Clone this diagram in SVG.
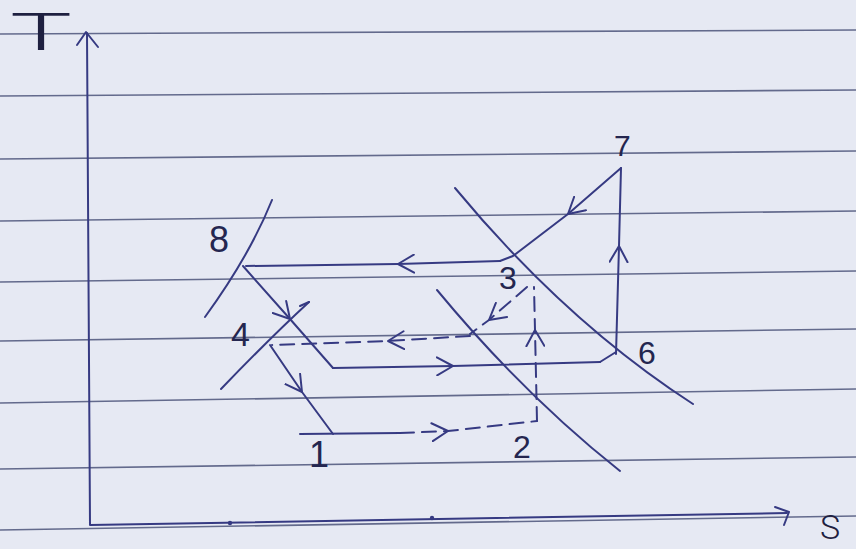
<svg xmlns="http://www.w3.org/2000/svg" width="856" height="549" viewBox="0 0 856 549">
  <style>
    .rule { stroke: #636a8c; stroke-width: 1.6; fill: none; }
    .ink { stroke: #363a82; stroke-width: 2; fill: none; stroke-linecap: round; stroke-linejoin: round; }
    .dash { stroke-dasharray: 14 8; }
    .lbl { font-family: "Liberation Sans", Arial, sans-serif; fill: #24264f; }
    .axl { font-family: Roboto, "Liberation Sans", sans-serif; font-weight: 300; fill: #1e2040; }
  </style>
  <defs>
    <marker id="v" viewBox="0 0 18 20" refX="17" refY="10" markerWidth="18" markerHeight="20" markerUnits="userSpaceOnUse" orient="auto">
      <path d="M1,1 L17,10 L1,19" fill="none" stroke="#363a82" stroke-width="2" stroke-linecap="round" stroke-linejoin="round"/>
    </marker>
  </defs>

  <rect width="856" height="549" fill="#e6e9f3"/>

  <g id="rules">
    <line class="rule" x1="0" y1="34" x2="856" y2="30"/>
    <line class="rule" x1="0" y1="96" x2="856" y2="90"/>
    <line class="rule" x1="0" y1="159" x2="856" y2="151"/>
    <line class="rule" x1="0" y1="221" x2="856" y2="211"/>
    <line class="rule" x1="0" y1="282" x2="856" y2="271"/>
    <line class="rule" x1="0" y1="341" x2="856" y2="329"/>
    <line class="rule" x1="0" y1="403" x2="856" y2="389"/>
    <line class="rule" x1="0" y1="469" x2="856" y2="457"/>
    <line class="rule" x1="0" y1="530" x2="856" y2="516"/>
  </g>

  <g id="axes">
    <path class="ink" d="M87,33 L90,525 L787,513"/>
    <path class="ink" d="M77,45 L86,32 L98,47"/>
    <path class="ink" d="M775,507 L789,512 L784,525"/>
    <circle cx="230" cy="523" r="2.2" fill="#363a82"/>
    <circle cx="432" cy="518" r="2.2" fill="#363a82"/>
    <text class="axl" x="10" y="50" font-size="52" textLength="62" lengthAdjust="spacingAndGlyphs">T</text>
    <text class="axl" x="820" y="539" font-size="34">S</text>
  </g>

  <g id="curves">
    <path class="ink" d="M272,200 Q250,255 205,317"/>
    <path class="ink" d="M309,302 Q270,338 221,389"/>
    <path class="ink" d="M300,306 L309,302"/>
    <path class="ink" d="M455,188 Q566,322 693,404"/>
    <path class="ink" d="M437,290 Q523,394 620,471"/>
  </g>

  <g id="connectors">
    <path class="ink" d="M243,266 L290,319 L333,368" marker-mid="url(#v)"/>
    <path class="ink" d="M333,368 L453,366 L600,362" marker-mid="url(#v)"/>
    <path class="ink" d="M600,362 L616,352"/>
    <path class="ink" d="M616,354 L619,246 L621,168" marker-mid="url(#v)"/>
    <path class="ink" d="M621,168 L568,214" marker-end="url(#v)"/>
    <path class="ink" d="M568,214 L513,256 L500,261"/>
    <path class="ink" d="M500,261 L398,264 L246,266" marker-mid="url(#v)"/>
    <path class="ink" d="M270,345 L302,392 L333,434" marker-mid="url(#v)"/>
    <path class="ink" d="M300,434 L400,433"/>
    <path class="ink dash" d="M400,433 L448,431 L537,421" marker-mid="url(#v)"/>
    <path class="ink dash" d="M537,421 L535,330 L534,287" marker-mid="url(#v)"/>
    <path class="ink dash" d="M527,287 L489,320 L470,334" marker-mid="url(#v)"/>
    <path class="ink dash" d="M470,336 L388,341 L272,345" marker-mid="url(#v)"/>
  </g>

  <g id="state-8"><text class="lbl" x="209" y="252" font-size="36">8</text></g>
  <g id="state-4"><text class="lbl" x="231" y="346" font-size="34">4</text></g>
  <g id="state-1"><text class="lbl" x="309" y="467" font-size="36">1</text></g>
  <g id="state-2"><text class="lbl" x="513" y="458" font-size="32">2</text></g>
  <g id="state-3"><text class="lbl" x="499" y="289" font-size="32">3</text></g>
  <g id="state-6"><text class="lbl" x="638" y="364" font-size="32">6</text></g>
  <g id="state-7"><text class="lbl" x="614" y="156" font-size="30">7</text></g>
</svg>
